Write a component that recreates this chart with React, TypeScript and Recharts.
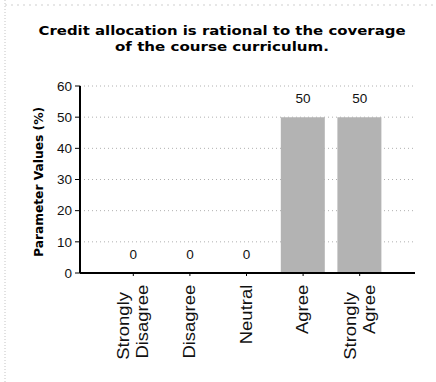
import React from "react";
import { ComposedChart, Bar, Line, XAxis, YAxis, CartesianGrid, LabelList } from "recharts";

const categories = ["Strongly Disagree", "Disagree", "Neutral", "Agree", "Strongly Agree"];
const values = [0, 0, 0, 50, 50];
const yTicks = [0, 10, 20, 30, 40, 50, 60];
const titleLines = ["Credit allocation is rational to the coverage", "of the course curriculum."];
const yLabel = "Parameter Values (%)";

const data = categories.map((c, i) => ({ name: c, value: values[i] }));

const XTick = (props: any) => {
  const { x, y, payload } = props;
  const words: string[] = String(payload.value).split(" ");
  const font = { fontFamily: "Liberation Sans, Arial, sans-serif", fontSize: 16.5, fill: "#111" };
  if (words.length === 1) {
    return (
      <g transform={`translate(${x},${y})`}>
        <text transform="rotate(-90) scale(1.12,1)" x={-6} y={5} textAnchor="end" {...font}>
          {words[0]}
        </text>
      </g>
    );
  }
  return (
    <g transform={`translate(${x},${y})`}>
      <text transform="rotate(-90) scale(1.12,1)" x={-73} y={-4} textAnchor="start" {...font}>
        {words[0]}
      </text>
      <text transform="rotate(-90) scale(1.12,1)" x={-6} y={15} textAnchor="end" {...font}>
        {words[1]}
      </text>
    </g>
  );
};

export default function App() {
  return (
    <div style={{ position: "absolute", left: 0, top: 0, width: 436, height: 382, background: "#fff" }}>
      <ComposedChart
        width={436}
        height={382}
        data={data}
        margin={{ top: 86, right: 21, bottom: 9, left: 0 }}
      >
        <CartesianGrid vertical={false} stroke="#b0b0b0" strokeDasharray="1 3" />
        <XAxis
          dataKey="name"
          interval={0}
          height={100}
          padding={{ left: 25, right: 27 }}
          axisLine={{ stroke: "#000", strokeWidth: 2 }}
          tickLine={{ stroke: "#000" }}
          tickSize={3}
          tick={<XTick />}
        />
        <YAxis
          width={80}
          domain={[0, 60]}
          ticks={yTicks}
          interval={0}
          axisLine={{ stroke: "#000", strokeWidth: 2 }}
          tickLine={{ stroke: "#000" }}
          tickSize={5}
          tickMargin={3}
          tick={{ fontFamily: "Liberation Sans, Arial, sans-serif", fontSize: 13.5, fill: "#111" }}
        />
        <Bar dataKey="value" fill="#b3b3b3" barSize={44} isAnimationActive={false} />
        <Line
          dataKey="value"
          stroke="none"
          dot={false}
          activeDot={false}
          legendType="none"
          isAnimationActive={false}
        >
          <LabelList
            dataKey="value"
            position="top"
            offset={14}
            style={{ fontFamily: "Liberation Sans, Arial, sans-serif", fontSize: 13.5, fill: "#111" }}
          />
        </Line>
      </ComposedChart>
      <svg width={436} height={382} style={{ position: "absolute", left: 0, top: 0, pointerEvents: "none" }}>
        <line x1={5} y1={0} x2={5} y2={382} stroke="#c4c4c4" strokeDasharray="1 2" />
        <line x1={5} y1={5} x2={436} y2={5} stroke="#cfcfcf" strokeDasharray="2 4" />
        <text
          x={222}
          y={35}
          textAnchor="middle"
          fontFamily="DejaVu Sans, Verdana, sans-serif"
          fontWeight="bold"
          fontSize={13}
          fill="#000"
          textLength={367}
          lengthAdjust="spacingAndGlyphs"
        >
          {titleLines[0]}
        </text>
        <text
          x={222}
          y={51}
          textAnchor="middle"
          fontFamily="DejaVu Sans, Verdana, sans-serif"
          fontWeight="bold"
          fontSize={13}
          fill="#000"
          textLength={214}
          lengthAdjust="spacingAndGlyphs"
        >
          {titleLines[1]}
        </text>
        <text
          transform="translate(43,182) rotate(-90)"
          textAnchor="middle"
          fontFamily="DejaVu Sans, Verdana, sans-serif"
          fontWeight="bold"
          fontSize={12}
          fill="#000"
          textLength={150}
          lengthAdjust="spacingAndGlyphs"
        >
          {yLabel}
        </text>
      </svg>
    </div>
  );
}
